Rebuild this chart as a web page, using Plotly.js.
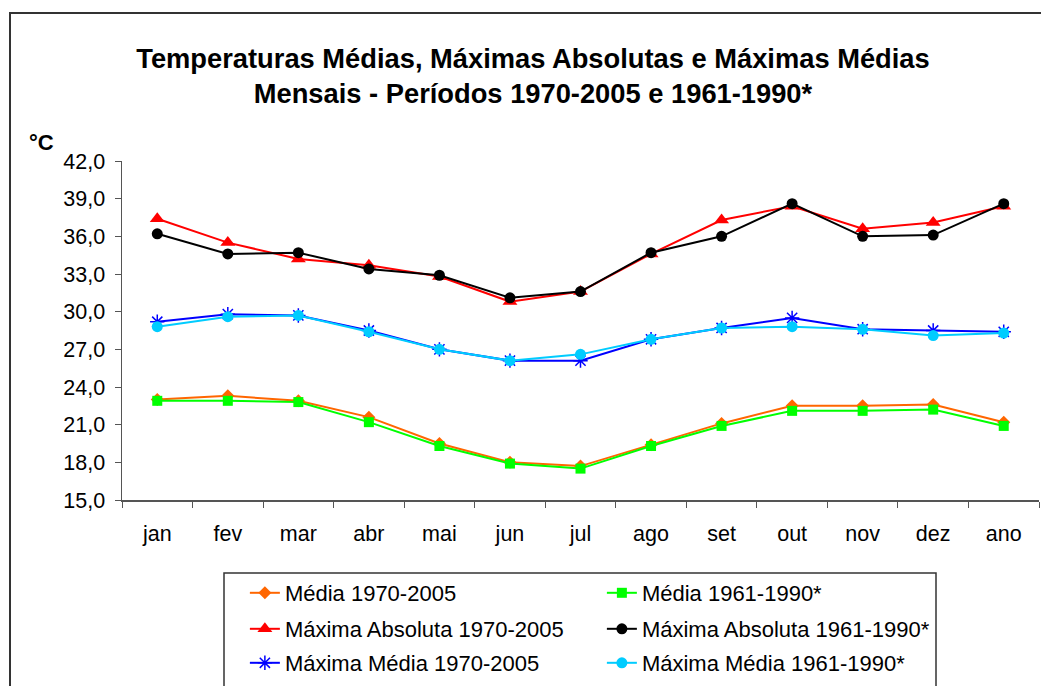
<!DOCTYPE html>
<html>
<head>
<meta charset="utf-8">
<script src="https://cdn.plot.ly/plotly-3.0.1.min.js"></script>
<style>
html,body{margin:0;padding:0;background:#fff;}
#chart{width:1041px;height:686px;}
</style>
</head>
<body>
<div id="chart"></div>
<script>
var categories = ["jan","fev","mar","abr","mai","jun","jul","ago","set","out","nov","dez","ano"];
var media7005 = [23.0, 23.3, 22.9, 21.6, 19.5, 18.0, 17.7, 19.4, 21.1, 22.5, 22.5, 22.6, 21.2];
var media6190 = [22.9, 22.9, 22.8, 21.2, 19.3, 17.9, 17.5, 19.3, 20.9, 22.1, 22.1, 22.2, 20.9];
var maxAbs7005 = [37.4, 35.5, 34.2, 33.7, 32.8, 30.8, 31.6, 34.6, 37.3, 38.4, 36.6, 37.1, 38.4];
var maxAbs6190 = [36.2, 34.6, 34.7, 33.4, 32.9, 31.1, 31.6, 34.7, 36.0, 38.6, 36.0, 36.1, 38.6];
var maxMed7005 = [29.2, 29.8, 29.7, 28.5, 27.0, 26.1, 26.1, 27.8, 28.7, 29.5, 28.6, 28.5, 28.4];
var maxMed6190 = [28.8, 29.6, 29.7, 28.4, 27.0, 26.1, 26.6, 27.8, 28.7, 28.8, 28.6, 28.1, 28.3];
var yTicks = [15, 18, 21, 24, 27, 30, 33, 36, 39, 42];
var seriesNames = ["Média 1970-2005", "Média 1961-1990*", "Máxima Absoluta 1970-2005",
                   "Máxima Absoluta 1961-1990*", "Máxima Média 1970-2005", "Máxima Média 1961-1990*"];

var FONT = "Liberation Sans, Arial, sans-serif";

function tr(y, name, color, marker, legend) {
  return {
    x: categories, y: y, name: name, type: "scatter", mode: "lines+markers",
    line: {color: color, width: 2},
    marker: marker, legend: legend, cliponaxis: false
  };
}

var data = [
  tr(media7005, seriesNames[0], "#FF6600", {symbol: "diamond", size: 10, color: "#FF6600"}, "legend"),
  tr(media6190, seriesNames[1], "#00FF00", {symbol: "square", size: 10, color: "#00FF00"}, "legend"),
  tr(maxAbs7005, seriesNames[2], "#FF0000", {symbol: "triangle-up", size: 13, color: "#FF0000"}, "legend2"),
  tr(maxAbs6190, seriesNames[3], "#000000", {symbol: "circle", size: 11, color: "#000000"}, "legend2"),
  tr(maxMed7005, seriesNames[4], "#0000FF", {symbol: "asterisk-open", size: 12, color: "#0000FF", line: {width: 1.5, color: "#0000FF"}}, "legend3"),
  tr(maxMed6190, seriesNames[5], "#00CCFF", {symbol: "circle", size: 11, color: "#00CCFF"}, "legend3")
];

var legBase = {
  orientation: "h", x: 0.134, xanchor: "left", yanchor: "middle",
  font: {family: FONT, size: 22, color: "#000"},
  bgcolor: "rgba(0,0,0,0)", borderwidth: 0,
  entrywidth: 312, entrywidthmode: "pixels", traceorder: "normal"
};

var layout = {
  width: 1041, height: 686,
  margin: {l: 122, r: 2, t: 161, b: 186},
  paper_bgcolor: "#fff", plot_bgcolor: "#fff",
  font: {family: FONT, size: 22, color: "#000"},
  separators: ",.",
  title: {
    text: "<b>Temperaturas Médias, Máximas Absolutas e Máximas Médias<br>Mensais - Períodos 1970-2005 e 1961-1990*</b>",
    font: {family: FONT, size: 27.3, color: "#000"},
    x: 0.512, xref: "container", xanchor: "center",
    y: 1 - 68 / 686, yref: "container", yanchor: "middle"
  },
  xaxis: {
    type: "category", range: [-0.5, 12.5],
    showline: true, linecolor: "#555", linewidth: 1.5,
    ticks: "outside", ticklen: 6, tickcolor: "#555", tickson: "boundaries",
    showgrid: false, zeroline: false,
    tickfont: {family: FONT, size: 21.5, color: "#000"},
    ticklabelstandoff: 14,
    fixedrange: true
  },
  yaxis: {
    range: [15, 42], tickvals: yTicks, tickformat: ".1f",
    showline: true, linecolor: "#555", linewidth: 1.5,
    ticks: "outside", ticklen: 6, tickcolor: "#555",
    showgrid: false, zeroline: false,
    tickfont: {family: FONT, size: 21.5, color: "#000"},
    ticklabelstandoff: 5,
    fixedrange: true
  },
  showlegend: true,
  legend: Object.assign({}, legBase, {y: (500 - 593) / 339}),
  legend2: Object.assign({}, legBase, {y: (500 - 629) / 339}),
  legend3: Object.assign({}, legBase, {y: (500 - 663) / 339}),
  annotations: [{
    text: "<b>°C</b>", xref: "paper", yref: "paper",
    x: (27 - 122) / 917, y: (500 - 143) / 339, xanchor: "left", yanchor: "middle",
    showarrow: false, font: {family: FONT, size: 22, color: "#000"}
  }],
  shapes: [
    {type: "rect", xref: "paper", yref: "paper", layer: "below",
     x0: (10 - 122) / 917, x1: 1.1, y0: -0.7, y1: (500 - 13) / 339,
     line: {color: "#333", width: 2}, fillcolor: "rgba(0,0,0,0)"},
    {type: "rect", xref: "paper", yref: "paper", layer: "below",
     x0: (224 - 122) / 917, x1: (936 - 122) / 917, y0: -0.7, y1: (500 - 573) / 339,
     line: {color: "#333", width: 1.5}, fillcolor: "rgba(0,0,0,0)"}
  ]
};

Plotly.newPlot("chart", data, layout, {displayModeBar: false, staticPlot: true});
</script>
</body>
</html>
